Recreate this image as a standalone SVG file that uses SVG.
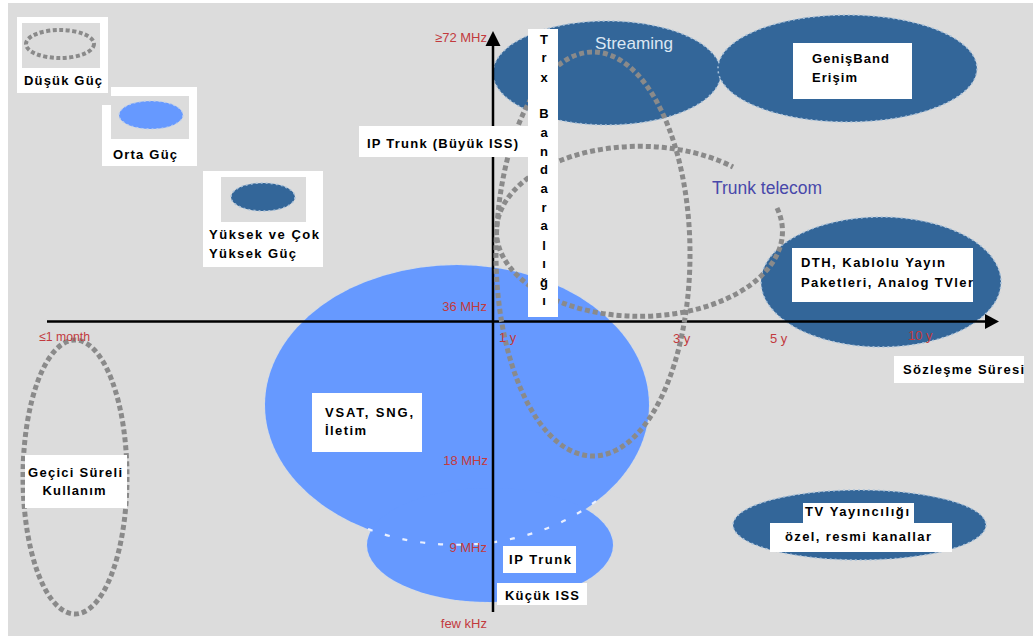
<svg xmlns="http://www.w3.org/2000/svg" width="1033" height="636" viewBox="0 0 1033 636">
<style>
.lb{font-family:"Liberation Sans",Arial,sans-serif;font-weight:bold;font-size:13px;fill:#000}
.ax{font-family:"Liberation Sans",Arial,sans-serif;font-size:13px;fill:#c23a3e}
.box{fill:#fff}
.dk{fill:#336699;stroke:#aac2da;stroke-width:1.5;stroke-dasharray:2 3}
.lt{fill:#6699ff}
.ltE{fill:none;stroke:#c9d9f0;stroke-width:2;stroke-dasharray:2 3}
.dot{fill:none;stroke:#8a8a8a;stroke-width:5;stroke-dasharray:5 3}
.axis{stroke:#000;stroke-width:2.5;fill:none}
</style>
<rect x="0" y="0" width="1033" height="636" fill="#fff"/>
<rect x="8" y="3" width="1025" height="633" fill="#dcdcdc"/>

<g id="legend-dusuk">
<rect class="box" x="17" y="17" width="91" height="76"/>
<rect x="22" y="23" width="78" height="45" fill="#dcdcdc"/>
<ellipse cx="60" cy="44" rx="34" ry="14" fill="none" stroke="#8a8a8a" stroke-width="4" stroke-dasharray="4 2.5"/>
<text class="lb" x="24" y="85" textLength="78" lengthAdjust="spacing">Düşük Güç</text>
</g>
<g id="legend-orta">
<polygon class="box" points="111,87 197,87 197,166 102,166 102,105 111,105"/>
<rect x="111" y="96" width="78" height="43" fill="#dcdcdc"/>
<ellipse cx="151" cy="115" rx="32" ry="14" fill="#6699ff" stroke="#b8ccef" stroke-width="1.2" stroke-dasharray="2 3"/>
<text class="lb" x="113" y="159" textLength="64" lengthAdjust="spacing">Orta Güç</text>
</g>
<g id="legend-yuksek">
<rect class="box" x="203" y="171" width="120" height="96"/>
<rect x="221" y="177" width="85" height="45" fill="#dcdcdc"/>
<ellipse cx="263" cy="197" rx="32" ry="14" class="dk"/>
<text class="lb" x="209" y="239" textLength="110" lengthAdjust="spacing">Yüksek ve Çok</text>
<text class="lb" x="209" y="258" textLength="87" lengthAdjust="spacing">Yüksek Güç</text>
</g>

<g id="streaming">
<ellipse cx="607" cy="73" rx="114" ry="52" class="dk"/>
<text x="634" y="49" text-anchor="middle" font-family="Liberation Sans, Arial, sans-serif" font-size="17" fill="#dbe7f3" textLength="78" lengthAdjust="spacingAndGlyphs">Streaming</text>
</g>
<g id="genisband">
<ellipse cx="847.5" cy="68.5" rx="129.5" ry="53.5" class="dk"/>
</g>
<g id="dth">
<ellipse cx="881" cy="282" rx="120" ry="65" class="dk"/>
</g>
<g id="tv">
<ellipse cx="859.5" cy="525" rx="126.5" ry="35" class="dk"/>
</g>
<g id="vsat">
<ellipse cx="457" cy="405" rx="192" ry="140" class="ltE"/>
<ellipse cx="490" cy="545" rx="123" ry="57" class="ltE"/>
<ellipse cx="457" cy="405" rx="192" ry="140" class="lt"/>
<ellipse cx="490" cy="545" rx="123" ry="57" class="lt"/>
<path d="M368,529 A192,140 0 0 0 596,501" fill="none" stroke="#eaf0ff" stroke-width="2.2" stroke-dasharray="5 13"/>
</g>

<g id="connectors">
<line class="axis" x1="47" y1="321.5" x2="988" y2="321.5"/>
<polygon points="999,321.5 985,314 985,329" fill="#000"/>
<line class="axis" x1="493" y1="612" x2="493" y2="44"/>
<polygon points="493,31 485.5,46 500.5,46" fill="#000"/>
</g>

<g id="gecici">
<ellipse cx="75" cy="477" rx="52" ry="137" class="dot"/>
<rect class="box" x="25" y="455" width="102" height="53"/>
<text class="lb" x="75" y="477" text-anchor="middle" textLength="94" lengthAdjust="spacing">Geçici Süreli</text>
<text class="lb" x="74" y="495" text-anchor="middle" textLength="63" lengthAdjust="spacing">Kullanım</text>
</g>
<g id="ip-trunk-buyuk-loop">
<ellipse cx="593" cy="254" rx="97" ry="202" class="dot"/>
</g>
<g id="trunk-telecom">
<path class="dot" d="M777,208 A143,85 0 1 1 733,167"/>
<text x="712" y="194" font-family="Liberation Sans, Arial, sans-serif" font-size="17.5" fill="#4848aa" textLength="110" lengthAdjust="spacingAndGlyphs">Trunk telecom</text>
</g>

<g id="axis-labels">
<text class="ax" x="487" y="42" text-anchor="end">≥72 MHz</text>
<text class="ax" x="487" y="311" text-anchor="end">36 MHz</text>
<text class="ax" x="488" y="465" text-anchor="end">18 MHz</text>
<text class="ax" x="487" y="552" text-anchor="end">9 MHz</text>
<text class="ax" x="487" y="628" text-anchor="end">few kHz</text>
<text class="ax" x="39" y="341" textLength="51" lengthAdjust="spacingAndGlyphs">≤1 month</text>
<text class="ax" x="499" y="342">1 y</text>
<text class="ax" x="673" y="343">3 y</text>
<text class="ax" x="770" y="343">5 y</text>
<text class="ax" x="908" y="340" fill="#9a3a80">10 y</text>
</g>

<g id="trx-bandaraligi">
<rect class="box" x="528" y="29" width="30" height="288"/>
<g class="lb" text-anchor="middle">
<text x="544" y="44">T</text>
<text x="544" y="62">r</text>
<text x="544" y="82">x</text>
<text x="544" y="118">B</text>
<text x="544" y="137">a</text>
<text x="544" y="156">n</text>
<text x="544" y="174">d</text>
<text x="544" y="193">a</text>
<text x="544" y="212">r</text>
<text x="544" y="230">a</text>
<text x="544" y="250">l</text>
<text x="544" y="268">ı</text>
<text x="544" y="287">ğ</text>
<text x="544" y="305">ı</text>
</g>
</g>
<g id="ip-trunk-buyuk">
<rect class="box" x="359" y="126" width="169" height="31"/>
<text class="lb" x="367" y="148" textLength="151" lengthAdjust="spacing">IP Trunk (Büyük ISS)</text>
</g>
<g id="genisband-label">
<rect class="box" x="793" y="43" width="119" height="56"/>
<text class="lb" x="812" y="63" textLength="77" lengthAdjust="spacing">GenişBand</text>
<text class="lb" x="812" y="82" textLength="45" lengthAdjust="spacing">Erişim</text>
</g>
<g id="dth-label">
<rect class="box" x="792" y="248" width="181" height="54"/>
<text class="lb" x="801" y="267" textLength="144" lengthAdjust="spacing">DTH, Kablolu Yayın</text>
<text class="lb" x="801" y="287" textLength="172" lengthAdjust="spacing">Paketleri, Analog TVler</text>
</g>
<g id="sozlesme">
<rect class="box" x="894" y="356" width="130" height="27"/>
<text class="lb" x="903" y="374" textLength="121" lengthAdjust="spacing">Sözleşme Süresi</text>
</g>
<g id="vsat-label">
<rect class="box" x="312" y="393" width="110" height="59"/>
<text class="lb" x="325" y="417" textLength="88" lengthAdjust="spacing">VSAT, SNG,</text>
<text class="lb" x="325" y="435" textLength="41" lengthAdjust="spacing">İletim</text>
</g>
<g id="tv-label">
<rect class="box" x="803" y="503" width="111" height="21"/>
<rect class="box" x="770" y="523" width="182" height="29"/>
<text class="lb" x="805" y="516" textLength="104" lengthAdjust="spacing">TV Yayıncılığı</text>
<text class="lb" x="785" y="541" textLength="146" lengthAdjust="spacing">özel, resmi kanallar</text>
</g>
<g id="ip-trunk-kucuk">
<rect class="box" x="503" y="546" width="73" height="27"/>
<text class="lb" x="509" y="564" textLength="62" lengthAdjust="spacing">IP Trunk</text>
<rect class="box" x="497" y="583" width="90" height="22"/>
<text class="lb" x="505" y="600" textLength="74" lengthAdjust="spacing">Küçük ISS</text>
</g>
</svg>
